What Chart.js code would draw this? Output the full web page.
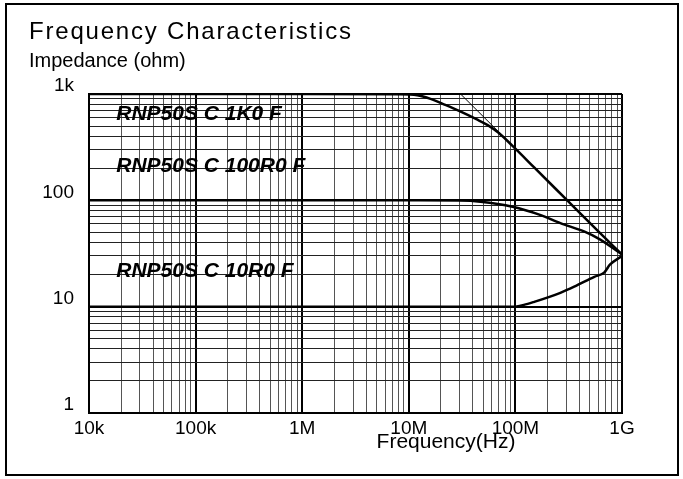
<!DOCTYPE html>
<html>
<head>
<meta charset="utf-8">
<script src="https://cdn.jsdelivr.net/npm/chart.js@4.4.0/dist/chart.umd.min.js"></script>
<style>
  html, body { margin: 0; padding: 0; background: #fff; }
  #wrap { width: 683px; height: 479px; }
</style>
</head>
<body>
<div id="wrap"><canvas id="myChart" width="683" height="479"></canvas></div>
<script>
// frequency (Hz) vs impedance (ohm)
const freq1k0 = [1e4, 1e6, 8e6, 1.2e7, 1.6e7, 2.2e7, 3e7, 4.3e7, 5.5e7, 7e7, 9.4e7, 1.5e8, 3e8, 6e8, 1e9];
const imp1k0 = [1000, 1000, 995, 975, 900, 790, 690, 580, 510, 430, 325, 204, 102, 51, 31];

const freq100r0 = [1e4, 1e7, 3e7, 4.7e7, 9.4e7, 1.7e8, 2.64e8, 4.4e8, 6.2e8, 1e9];
const imp100r0 = [100, 100, 99.5, 97, 87, 73, 61, 51, 43, 31];

const freq10r0 = [1e4, 9.4e7, 1.2e8, 1.5e8, 2.64e8, 3.56e8, 5.5e8, 6.8e8, 7.7e8, 1e9];
const imp10r0 = [10, 10, 10.4, 11.1, 13.5, 15.4, 19.1, 20.9, 24.8, 30];

// thin capacitive asymptote
const freqCap = [3.06e7, 1e9];
const impCap = [1000, 31];

const seriesNames = ['RNP50S C 1K0 F', 'RNP50S C 100R0 F', 'RNP50S C 10R0 F'];
const xTickLabels = ['10k', '100k', '1M', '10M', '100M', '1G'];
const yTickLabels = ['1', '10', '100', '1k'];

const xDecades = xTickLabels.map((_, i) => Math.pow(10, 4 + i));
const yDecades = yTickLabels.map((_, i) => Math.pow(10, i));

function pts(xs, ys) {
  return xs.map((x, i) => ({ x: x, y: ys[i] }));
}

function logTicks(decades) {
  const out = [];
  for (let i = 0; i < decades.length - 1; i++) {
    for (let m = 1; m < 10; m++) out.push({ value: decades[i] * m });
  }
  out.push({ value: decades[decades.length - 1] });
  return out;
}

const FONT = '"Liberation Sans", Arial, sans-serif';
Chart.defaults.font.family = FONT;
Chart.defaults.color = '#000';

// texts drawn straight on the canvas
const textPlugin = {
  id: 'texts',
  beforeDatasetsDraw(chart) {
    const c = chart.ctx;
    const xs = chart.scales.x, ys = chart.scales.y;
    const spots = [[1.8e4, 570], [1.8e4, 185], [1.8e4, 19]];
    c.save();
    c.fillStyle = '#000';
    c.font = 'italic bold 21px ' + FONT;
    c.textBaseline = 'alphabetic';
    seriesNames.forEach((n, i) => {
      c.fillText(n, xs.getPixelForValue(spots[i][0]), ys.getPixelForValue(spots[i][1]));
    });
    c.restore();
  },
  afterDraw(chart) {
    const c = chart.ctx;
    c.save();
    c.fillStyle = '#000';
    c.textBaseline = 'alphabetic';
    c.font = '24px ' + FONT;
    c.letterSpacing = '1.8px';
    c.fillText('Frequency Characteristics', 29, 39);
    c.letterSpacing = '0px';
    c.font = '20px ' + FONT;
    c.fillText('Impedance (ohm)', 29, 67);
    c.font = '21px ' + FONT;
    c.textAlign = 'center';
    c.fillText('Frequency(Hz)', 446, 448);
    // outer frame
    c.strokeStyle = '#000';
    c.lineWidth = 2;
    c.strokeRect(6, 4, 672, 471);
    c.restore();
  }
};

const lineStyle = {
  borderColor: '#000',
  borderWidth: 2.5,
  pointRadius: 0,
  fill: false,
  cubicInterpolationMode: 'monotone'
};

new Chart(document.getElementById('myChart'), {
  type: 'line',
  data: {
    datasets: [
      Object.assign({ label: seriesNames[0], data: pts(freq1k0, imp1k0) }, lineStyle),
      Object.assign({ label: seriesNames[1], data: pts(freq100r0, imp100r0) }, lineStyle),
      Object.assign({ label: seriesNames[2], data: pts(freq10r0, imp10r0) }, lineStyle),
      { label: 'C', data: pts(freqCap, impCap), borderColor: '#000', borderWidth: 1, pointRadius: 0, fill: false }
    ]
  },
  options: {
    responsive: false,
    animation: false,
    layout: { padding: { top: 94, right: 61, bottom: 36, left: 0 } },
    plugins: { legend: { display: false }, tooltip: { enabled: false } },
    scales: {
      x: {
        type: 'logarithmic',
        min: xDecades[0],
        max: xDecades[xDecades.length - 1],
        afterBuildTicks: s => { s.ticks = logTicks(xDecades); },
        afterFit: s => { s.height = 30; },
        border: { display: true, color: '#000', width: 2 },
        grid: {
          drawTicks: false,
          color: ctx => xDecades.includes(ctx.tick && ctx.tick.value) ? '#000' : '#555',
          lineWidth: ctx => xDecades.includes(ctx.tick && ctx.tick.value) ? 2 : 1
        },
        ticks: {
          autoSkip: false,
          maxRotation: 0,
          padding: 4,
          font: { size: 19 },
          callback: v => { const i = xDecades.indexOf(v); return i >= 0 ? xTickLabels[i] : ''; }
        }
      },
      y: {
        type: 'logarithmic',
        min: yDecades[0],
        max: yDecades[yDecades.length - 1],
        afterBuildTicks: s => { s.ticks = logTicks(yDecades); },
        afterFit: s => { s.width = 89; },
        border: { display: true, color: '#000', width: 2 },
        grid: {
          drawTicks: false,
          color: ctx => yDecades.includes(ctx.tick && ctx.tick.value) ? '#000' : '#222',
          lineWidth: ctx => yDecades.includes(ctx.tick && ctx.tick.value) ? 2 : 1
        },
        ticks: {
          autoSkip: false,
          padding: 15,
          labelOffset: -8,
          font: { size: 19 },
          callback: v => { const i = yDecades.indexOf(v); return i >= 0 ? yTickLabels[i] : ''; }
        }
      }
    }
  },
  plugins: [textPlugin]
});
</script>
</body>
</html>
